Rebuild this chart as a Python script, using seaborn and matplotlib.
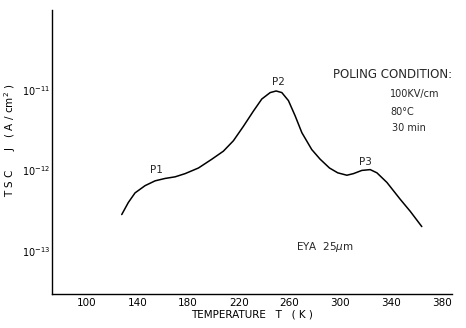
import numpy as np
import pandas as pd
import matplotlib
matplotlib.use("Agg")
import matplotlib.pyplot as plt
import seaborn as sns

# Data (T in K, log10 of J in A/cm^2)
temperature = [127.6, 132.8, 138.1, 146.0, 153.9, 161.8, 169.7, 177.6, 188.1, 198.7,
               207.8, 215.7, 223.6, 231.5, 238.1, 244.7, 249.4, 253.9, 259.1, 264.4,
               269.7, 277.5, 284.1, 291.5, 298.0, 305.2, 310.4, 317.0, 323.6, 328.9,
               336.8, 347.3, 355.2, 364.3]
log_j = [-12.55, -12.40, -12.28, -12.19, -12.13, -12.10, -12.08, -12.04, -11.97, -11.86,
         -11.76, -11.63, -11.45, -11.26, -11.11, -11.03, -11.01, -11.03, -11.13, -11.32,
         -11.53, -11.74, -11.86, -11.97, -12.03, -12.06, -12.04, -12.00, -11.99, -12.03,
         -12.15, -12.36, -12.51, -12.70]
x_ticks = [100, 140, 180, 220, 260, 300, 340, 380]
y_ticks = [1e-13, 1e-12, 1e-11]
y_tick_labels = [r"$10^{-13}$", r"$10^{-12}$", r"$10^{-11}$"]

df = pd.DataFrame({"T": temperature, "J": [10 ** v for v in log_j]})

sns.set_theme(style="white")
plt.rcParams["font.family"] = ["DejaVu Sans"]

fig = plt.figure(figsize=(4.66, 3.28), dpi=100)
ax = fig.add_axes([0.1116, 0.1037, 0.858, 0.866])
sns.lineplot(data=df, x="T", y="J", color="black", linewidth=1.1, ax=ax)
ax.set_yscale("log")
ax.set_xlim(72.6, 388)
ax.set_ylim(10 ** -13.54, 10 ** -10.0)

ax.set_xticks(x_ticks)
ax.set_xticklabels([str(v) for v in x_ticks], fontsize=7.5)
ax.set_yticks(y_ticks + [1e-10])
ax.set_yticklabels(y_tick_labels + [""], fontsize=7)
ax.minorticks_off()
ax.tick_params(axis="both", direction="in", length=4, width=0.9, color="black",
               labelcolor="black", pad=3)
ax.tick_params(axis="y", pad=1)

for s in ["top", "right"]:
    ax.spines[s].set_visible(False)
for s in ["left", "bottom"]:
    ax.spines[s].set_color("black")
    ax.spines[s].set_linewidth(1.0)

ax.set_xlabel("TEMPERATURE   T   ( K )", fontsize=7.5, labelpad=1, color="black")
ax.set_ylabel(r"T S C      J   ( A / cm$^2$ )", fontsize=7.5, color="black")
ax.yaxis.set_label_coords(-0.085, 0.54)

ax.text(155, 10 ** -12.0, "P1", fontsize=7.5, ha="center", va="center")
ax.text(251, 10 ** -10.9, "P2", fontsize=7.5, ha="center", va="center")
ax.text(320, 10 ** -11.89, "P3", fontsize=7.5, ha="center", va="center")
ax.text(288, 10 ** -12.95, r"EYA  25$\mu$m", fontsize=7.5, ha="center", va="center")

ax.text(294.4, 10 ** -10.81, "POLING CONDITION:", fontsize=8.5, ha="left", va="center")
ax.text(339.4, 10 ** -11.05, "100KV/cm", fontsize=7, ha="left", va="center")
ax.text(339.4, 10 ** -11.27, "80°C", fontsize=7, ha="left", va="center")
ax.text(340.5, 10 ** -11.475, "30 min", fontsize=7, ha="left", va="center")

fig.savefig("out.png", dpi=100)
